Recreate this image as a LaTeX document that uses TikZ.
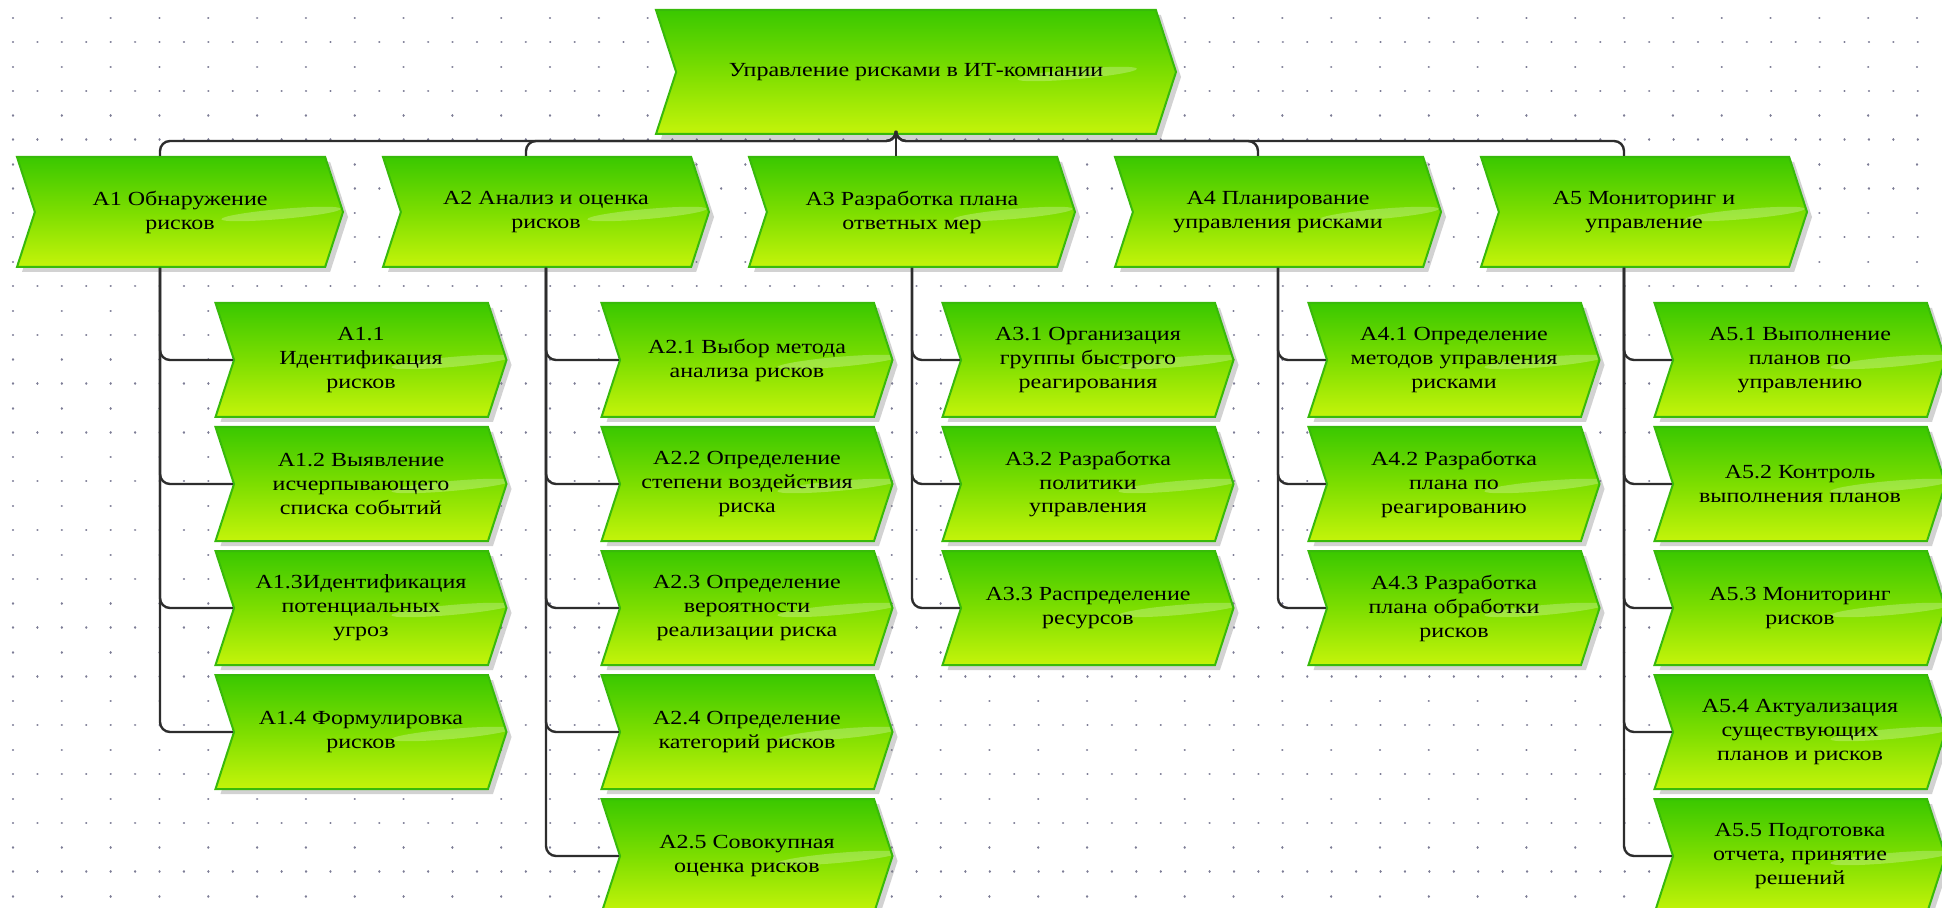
\documentclass[tikz,border=0pt]{standalone}
\usepackage{fontspec}
\setmainfont{Liberation Serif}[FakeStretch=1.2]
\usepackage{tikz}
\usetikzlibrary{shapes.symbols,shadows,positioning,calc}

\definecolor{chevtop}{RGB}{58,200,0}
\definecolor{chevmid}{RGB}{125,222,0}
\definecolor{chevbot}{RGB}{196,244,10}
\definecolor{chevline}{RGB}{56,186,10}
\definecolor{linkcol}{RGB}{45,45,45}
\definecolor{gridcol}{RGB}{125,125,150}

\tikzset{
  chev/.style={signal, signal to=east, signal from=west, signal pointer angle=144,
    draw=chevline, line width=1pt,
    top color=chevtop, bottom color=chevbot, middle color=chevmid,
    drop shadow={opacity=0.35, shadow xshift=2.5pt, shadow yshift=-2.5pt},
    path picture={\fill[white, opacity=0.25]
      ($(path picture bounding box.center)!0.62!(path picture bounding box.east)+(0,-1pt)$)
      ellipse [x radius=30pt, y radius=2.5pt, rotate=5];},
    align=center, inner sep=2pt, font=\fontsize{10}{12}\selectfont},
  root/.style={chev, minimum width=260pt, minimum height=62pt},
  func/.style={chev, minimum width=163pt, minimum height=55pt},
  subfunc/.style={chev, minimum width=145.5pt, minimum height=57pt},
  link/.style={draw=linkcol, line width=1.2pt, rounded corners=5pt},
  griddot/.style={gridcol, line width=1.2pt, line cap=round},
}

\begin{document}
\begin{tikzpicture}[x=0.5pt, y=-0.5pt]
\useasboundingbox (0,0) rectangle (1942,908);
\fill[white] (0,0) rectangle (1942,908);

%% dotted grid
\foreach \k in {0,...,18}{
  \draw[griddot, dash pattern=on 0.01pt off 24.4pt] (13,18+48.8*\k) -- (1942,18+48.8*\k);
}
\foreach \k in {0,...,17}{
  \draw[griddot, dash pattern=on 0.01pt off 12.2pt] (13,42+48.8*\k) -- (1942,42+48.8*\k);
}

%% root and first level
\node[root] (root) at (916,72) {Управление рисками в ИТ-компании};

\node[func] (A1) at (180,212) {A1 Обнаружение\\рисков};
\node[func] (A2) at (546,212) {A2 Анализ и оценка\\рисков};
\node[func] (A3) at (912,212) {A3 Разработка плана\\ответных мер};
\node[func] (A4) at (1278,212) {A4 Планирование\\управления рисками};
\node[func] (A5) at (1644,212) {A5 Мониторинг и\\управление};

%% A1 subfunctions
\node[subfunc] (A11) at (361,360) {A1.1\\Идентификация\\рисков};
\node[subfunc, below=4pt of A11] (A12) {A1.2 Выявление\\исчерпывающего\\списка событий};
\node[subfunc, below=4pt of A12] (A13) {A1.3Идентификация\\потенциальных\\угроз};
\node[subfunc, below=4pt of A13] (A14) {A1.4 Формулировка\\рисков};

%% A2 subfunctions
\node[subfunc] (A21) at (747,360) {A2.1 Выбор метода\\анализа рисков};
\node[subfunc, below=4pt of A21] (A22) {A2.2 Определение\\степени воздействия\\риска};
\node[subfunc, below=4pt of A22] (A23) {A2.3 Определение\\вероятности\\реализации риска};
\node[subfunc, below=4pt of A23] (A24) {A2.4 Определение\\категорий рисков};
\node[subfunc, below=4pt of A24] (A25) {A2.5 Совокупная\\оценка рисков};

%% A3 subfunctions
\node[subfunc] (A31) at (1088,360) {A3.1 Организация\\группы быстрого\\реагирования};
\node[subfunc, below=4pt of A31] (A32) {A3.2 Разработка\\политики\\управления};
\node[subfunc, below=4pt of A32] (A33) {A3.3 Распределение\\ресурсов};

%% A4 subfunctions
\node[subfunc] (A41) at (1454,360) {A4.1 Определение\\методов управления\\рисками};
\node[subfunc, below=4pt of A41] (A42) {A4.2 Разработка\\плана по\\реагированию};
\node[subfunc, below=4pt of A42] (A43) {A4.3 Разработка\\плана обработки\\рисков};

%% A5 subfunctions
\node[subfunc] (A51) at (1800,360) {A5.1 Выполнение\\планов по\\управлению};
\node[subfunc, below=4pt of A51] (A52) {A5.2 Контроль\\выполнения планов};
\node[subfunc, below=4pt of A52] (A53) {A5.3 Мониторинг\\рисков};
\node[subfunc, below=4pt of A53] (A54) {A5.4 Актуализация\\существующих\\планов и рисков};
\node[subfunc, below=4pt of A54] (A55) {A5.5 Подготовка\\отчета, принятие\\решений};

%% links from root
\draw[link] ([xshift=-10pt]A1.north) |- ([xshift=-10pt,yshift=-3pt]root.south) -- ([xshift=-10pt]root.south);
\draw[link] ([xshift=-10pt]A2.north) |- ([xshift=-10pt,yshift=-3pt]root.south) -- ([xshift=-10pt]root.south);
\draw[link] ([xshift=-10pt]root.south) -- ([xshift=-10pt]root.south |- A3.north);
\draw[link] ([xshift=-10pt]A4.north) |- ([xshift=-10pt,yshift=-3pt]root.south) -- ([xshift=-10pt]root.south);
\draw[link] ([xshift=-10pt]A5.north) |- ([xshift=-10pt,yshift=-3pt]root.south) -- ([xshift=-10pt]root.south);

%% links to subfunctions
\draw[link] ([xshift=-10pt]A1.south) |- (A11.west);
\draw[link] ([xshift=-10pt]A1.south) |- (A12.west);
\draw[link] ([xshift=-10pt]A1.south) |- (A13.west);
\draw[link] ([xshift=-10pt]A1.south) |- (A14.west);

\draw[link] (A2.south) |- (A21.west);
\draw[link] (A2.south) |- (A22.west);
\draw[link] (A2.south) |- (A23.west);
\draw[link] (A2.south) |- (A24.west);
\draw[link] (A2.south) |- (A25.west);

\draw[link] (A3.south) |- (A31.west);
\draw[link] (A3.south) |- (A32.west);
\draw[link] (A3.south) |- (A33.west);

\draw[link] (A4.south) |- (A41.west);
\draw[link] (A4.south) |- (A42.west);
\draw[link] (A4.south) |- (A43.west);

\draw[link] ([xshift=-10pt]A5.south) |- (A51.west);
\draw[link] ([xshift=-10pt]A5.south) |- (A52.west);
\draw[link] ([xshift=-10pt]A5.south) |- (A53.west);
\draw[link] ([xshift=-10pt]A5.south) |- (A54.west);
\draw[link] ([xshift=-10pt]A5.south) |- (A55.west);

\end{tikzpicture}
\end{document}
